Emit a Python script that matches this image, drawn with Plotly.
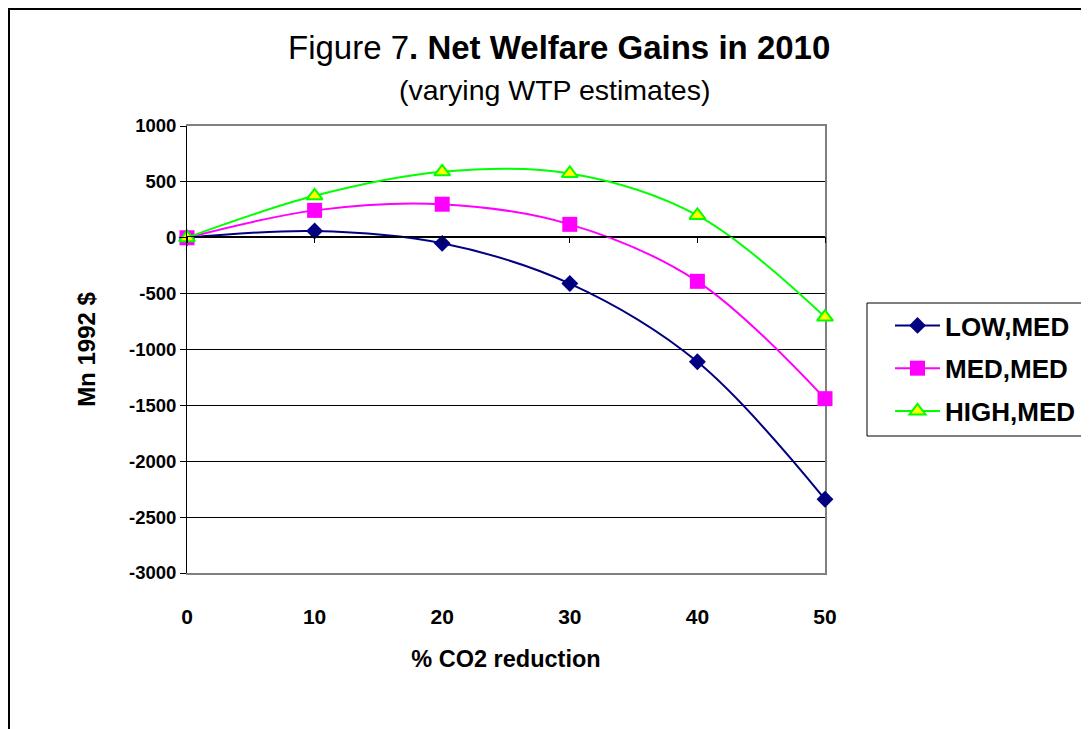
import plotly.graph_objects as go

# ---- data ----
co2_reduction = [0, 10, 20, 30, 40, 50]
low_med = [0, 60, -50, -410, -1110, -2340]
med_med = [0, 245, 300, 120, -390, -1440]
high_med = [0, 375, 590, 575, 200, -710]
y_ticks = [1000, 500, 0, -500, -1000, -1500, -2000, -2500, -3000]
y_tick_labels = ["1000", "500", "0", "-500", "-1000", "-1500", "-2000", "-2500", "-3000"]
x_ticks = [0, 10, 20, 30, 40, 50]

FONT = "Liberation Sans, Arial, sans-serif"

# page offset of the browser (body margin)
OFF = 8
W, H = 1089 - OFF, 729 - OFF
# plot area in reference-pixel coordinates
PL, PR, PT, PB = 187, 825, 126, 573
PW, PH = PR - PL, PB - PT
L, T = PL - OFF, PT - OFF
R, B = W - (PR - OFF), H - (PB - OFF)


def px(xp):
    return (xp - PL) / PW


def py(yp):
    return (PB - yp) / PH


fig = go.Figure()

fig.add_trace(go.Scatter(
    x=co2_reduction, y=low_med, name="LOW,MED", mode="lines+markers", legendgroup="a",
    cliponaxis=False,
    line=dict(color="#000080", width=2, shape="spline", smoothing=1.0),
    marker=dict(symbol="diamond", size=13, color="#000080"),
))
fig.add_trace(go.Scatter(
    x=co2_reduction, y=med_med, name="MED,MED", mode="lines+markers", legendgroup="b",
    cliponaxis=False,
    line=dict(color="#FF00FF", width=2, shape="spline", smoothing=1.0),
    marker=dict(symbol="square", size=15, color="#FF00FF"),
))
fig.add_trace(go.Scatter(
    x=co2_reduction, y=high_med, name="HIGH,MED", mode="lines+markers", legendgroup="c",
    cliponaxis=False,
    line=dict(color="#00FF00", width=2, shape="spline", smoothing=1.0),
    marker=dict(symbol="triangle-up", size=14, color="#FFFF00",
                line=dict(color="#00FF00", width=2)),
))
# helper trace so the zero-crossing category axis and right border axis are rendered
fig.add_trace(go.Scatter(
    x=co2_reduction, y=[None] * len(co2_reduction), xaxis="x2", yaxis="y2", mode="lines",
    showlegend=False, hoverinfo="skip",
))

fig.update_layout(
    width=W, height=H,
    margin=dict(l=L, r=R, t=T, b=B, autoexpand=False),
    paper_bgcolor="white", plot_bgcolor="white",
    font=dict(family=FONT, color="black"),
    xaxis=dict(
        range=[0, 50], tickvals=x_ticks, showgrid=False, zeroline=False,
        showline=True, linecolor="#808080", linewidth=2, mirror=True,
        layer="below traces", ticks="", ticklabelstandoff=24,
        tickfont=dict(family=FONT, size=21, weight="bold"),
        title=dict(text="<b>% CO2 reduction</b>", font=dict(family=FONT, size=23.5), standoff=23),
    ),
    xaxis2=dict(
        range=[0, 50], tickvals=x_ticks, overlaying="x", anchor="free",
        position=py(236), side="bottom",
        showgrid=False, zeroline=False, showline=True, linecolor="black",
        linewidth=1, ticks="outside", ticklen=6, tickcolor="black",
        showticklabels=False,
    ),
    yaxis=dict(
        range=[-3000, 1000], tickvals=y_ticks, ticktext=y_tick_labels,
        showgrid=True, gridcolor="black",
        gridwidth=1, zeroline=False, showline=True, linecolor="black", linewidth=1,
        ticks="outside", ticklen=6, tickcolor="black",
        tickfont=dict(family=FONT, size=18.5, weight="bold"),
        title=dict(text="<b>Mn 1992 $</b>", font=dict(family=FONT, size=24), standoff=26),
    ),
    yaxis2=dict(
        range=[-3000, 1000], overlaying="y", side="right", showgrid=False,
        zeroline=False, showline=True, linecolor="#808080", linewidth=2,
        layer="below traces", ticks="", showticklabels=False,
    ),
    legend=dict(
        x=px(890), y=py(302), xanchor="left", yanchor="top",
        bgcolor="rgba(0,0,0,0)", borderwidth=0, itemwidth=45,
        traceorder="grouped", tracegroupgap=6,
        font=dict(family=FONT, size=26, weight="bold"),
    ),
    shapes=[
        # legend box
        dict(type="rect", xref="paper", yref="paper", x0=px(867), x1=px(1085),
             y0=py(436), y1=py(303), line=dict(color="black", width=1),
             fillcolor="white", layer="below"),
        # chart frame
        dict(type="rect", xref="paper", yref="paper", x0=px(9), x1=px(1300),
             y0=py(900), y1=py(9), line=dict(color="black", width=2), layer="above"),
    ],
    annotations=[
        dict(text="Figure 7<b>. Net Welfare Gains in 2010</b>", xref="paper", yref="paper",
             x=px(559), y=py(47), xanchor="center", yanchor="middle", showarrow=False,
             font=dict(family=FONT, size=33)),
        dict(text="(varying WTP estimates)", xref="paper", yref="paper",
             x=px(554), y=py(90), xanchor="center", yanchor="middle", showarrow=False,
             font=dict(family=FONT, size=28.5)),
    ],
)

fig.write_html("out.html")
